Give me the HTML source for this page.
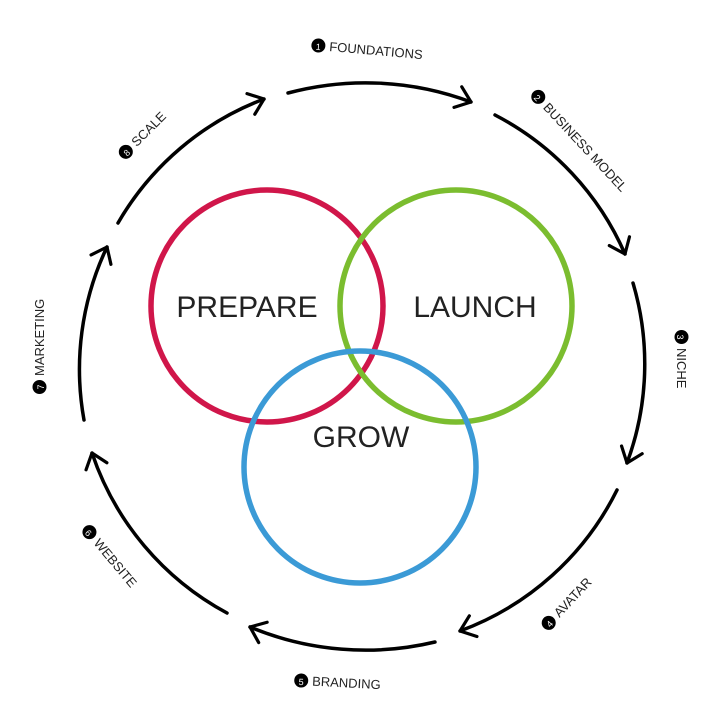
<!DOCTYPE html>
<html><head><meta charset="utf-8"><style>
html,body{margin:0;padding:0;background:#fff;}
svg{display:block;}
text{font-family:"Liberation Sans",sans-serif;}
</style></head><body>
<svg width="720" height="720" viewBox="0 0 720 720" xmlns="http://www.w3.org/2000/svg">
<defs>
<marker id="a" viewBox="-16 -16 32 32" markerWidth="32" markerHeight="32" refX="0" refY="0" orient="auto" markerUnits="userSpaceOnUse">
<polyline points="-14,-11 0,0 -14,11" fill="none" stroke="#000" stroke-width="3.2" stroke-linecap="round" stroke-linejoin="round"/>
</marker>
</defs>
<g fill="none" stroke="#000" stroke-width="3.5" stroke-linecap="round" marker-end="url(#a)">
<path d="M288,93 A300,300 0 0 1 471,102"/>
<path d="M495,115 A285,285 0 0 1 625,254"/>
<path d="M633,283 A285,285 0 0 1 627,463"/>
<path d="M617,490 A285,285 0 0 1 460,631"/>
<path d="M435,642 A300,300 0 0 1 250,627"/>
<path d="M227,613 A285,285 0 0 1 92,453"/>
<path d="M84,420 A285,285 0 0 1 107,247"/>
<path d="M118,223 A285,285 0 0 1 264,99"/>
</g>
<g fill="none" stroke-width="5.5">
<circle cx="267" cy="306" r="116" stroke="#d0164a"/>
<circle cx="456" cy="306" r="116" stroke="#7bbd2f"/>
<circle cx="360" cy="467" r="116" stroke="#3b9ad6"/>
</g>
<g font-size="30" fill="#222" text-anchor="middle">
<text x="247" y="317">PREPARE</text>
<text x="475" y="317">LAUNCH</text>
<text x="361" y="447">GROW</text>
</g>
<g font-size="13" fill="#222">
<g transform="translate(318,50) rotate(5)"><circle cx="0" cy="-4.5" r="7" fill="#000"/><text x="0" y="0" font-size="9" fill="#fff" text-anchor="middle">1</text><text x="11" y="0">FOUNDATIONS</text></g>
<g transform="translate(535,100) rotate(47)"><circle cx="0" cy="-4.5" r="7" fill="#000"/><text x="0" y="0" font-size="9" fill="#fff" text-anchor="middle">2</text><text x="11" y="0">BUSINESS MODEL</text></g>
<g transform="translate(677,337) rotate(90)"><circle cx="0" cy="-4.5" r="7" fill="#000"/><text x="0" y="0" font-size="9" fill="#fff" text-anchor="middle">3</text><text x="11" y="0">NICHE</text></g>
<g transform="translate(552,626) rotate(-47)"><circle cx="0" cy="-4.5" r="7" fill="#000"/><text x="0" y="0" font-size="9" fill="#fff" text-anchor="middle">4</text><text x="11" y="0">AVATAR</text></g>
<g transform="translate(301,685) rotate(3)"><circle cx="0" cy="-4.5" r="7" fill="#000"/><text x="0" y="0" font-size="9" fill="#fff" text-anchor="middle">5</text><text x="11" y="0">BRANDING</text></g>
<g transform="translate(86,535) rotate(50)"><circle cx="0" cy="-4.5" r="7" fill="#000"/><text x="0" y="0" font-size="9" fill="#fff" text-anchor="middle">6</text><text x="11" y="0">WEBSITE</text></g>
<g transform="translate(44,387) rotate(-90)"><circle cx="0" cy="-4.5" r="7" fill="#000"/><text x="0" y="0" font-size="9" fill="#fff" text-anchor="middle">7</text><text x="11" y="0">MARKETING</text></g>
<g transform="translate(129,155) rotate(-45)"><circle cx="0" cy="-4.5" r="7" fill="#000"/><text x="0" y="0" font-size="9" fill="#fff" text-anchor="middle">8</text><text x="11" y="0">SCALE</text></g>
</g>
</svg>
</body></html>
